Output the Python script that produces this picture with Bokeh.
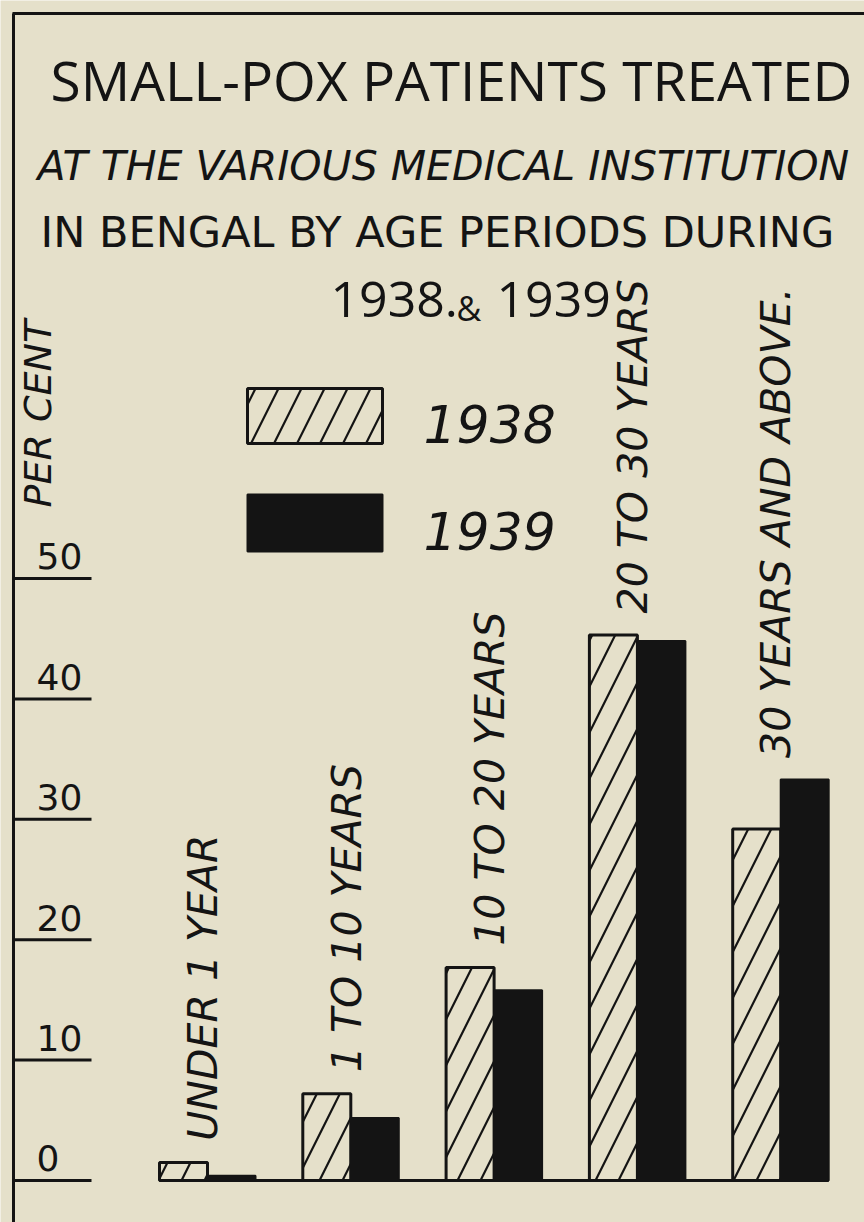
from bokeh.plotting import figure
from bokeh.models import ColumnDataSource, Range1d, Label
from bokeh.transform import dodge
from bokeh.core.properties import value
from bokeh.embed import file_html
from bokeh.resources import INLINE
import math

# ---- data ----
age_groups = ["UNDER 1 YEAR", "1 TO 10 YEARS", "10 TO 20 YEARS", "20 TO 30 YEARS", "30 YEARS AND ABOVE."]
pct_1938 = [1.5, 7.2, 17.7, 45.3, 29.2]
pct_1939 = [0.4, 5.2, 15.8, 44.8, 33.3]
y_ticks = [0, 10, 20, 30, 40, 50]
years = ["1938", "1939"]

PAPER = "#e5e0ca"
INK = "#141414"
SANS = "Open Sans"
HAND = "DejaVu Sans"

W, H = 864, 1222
# pixel -> data helpers (canvas pixels), used for annotation placement only
GX0, GDX = 207.0, 143.3
BY0, BDY = 1180.0, 12.04
SHIFT = 0.42  # baseline correction (fraction of font size)
def xd(cx):
    return (cx - GX0) / GDX
def yd(cy):
    return (BY0 - cy) / BDY

p = figure(width=W, height=H, output_backend="svg", toolbar_location=None,
           x_range=Range1d(xd(0), xd(W)), y_range=Range1d(yd(H), yd(0)),
           min_border=0, x_axis_location=None, y_axis_location=None)
p.grid.visible = False
p.outline_line_color = None
p.background_fill_color = PAPER
p.border_fill_color = PAPER

idx = list(range(len(age_groups)))
src = ColumnDataSource(dict(x=idx, a=pct_1938, b=pct_1939, cat=age_groups,
                            top=[max(a, b) for a, b in zip(pct_1938, pct_1939)]))
bw = 48 / GDX

hatch = dict(fill_color=PAPER, hatch_pattern="/", hatch_color=INK, hatch_weight=2.2,
             hatch_scale=46, line_color=INK, line_width=3)
p.vbar(x=dodge("x", -bw / 2, range=p.x_range), top="a", bottom=0, width=bw, source=src, **hatch)
p.vbar(x=dodge("x", bw / 2, range=p.x_range), top="b", bottom=0, width=bw, source=src,
       fill_color=INK, line_color=INK, line_width=2)

# baseline
p.segment(x0=[idx[0] - bw], x1=[idx[-1] + bw], y0=[0], y1=[0], line_color=INK, line_width=3)

# frame: left axis line and top border
p.segment(x0=[xd(13)], x1=[xd(13)], y0=[yd(13)], y1=[yd(H)], line_color=INK, line_width=3)
p.segment(x0=[xd(12)], x1=[xd(W)], y0=[yd(13)], y1=[yd(13)], line_color=INK, line_width=3)

# ticks
TICK_FS = 36
tick_src = ColumnDataSource(dict(y=y_ticks, lab=[str(t) for t in y_ticks]))
p.segment(x0=xd(13), x1=xd(91), y0="y", y1="y", source=tick_src, line_color=INK, line_width=3)
p.text(x=xd(36), y=dodge("y", (7 + SHIFT * TICK_FS) / BDY, range=p.y_range), text="lab",
       source=tick_src, text_font=value(HAND), text_font_size=f"{TICK_FS}px", text_color=INK,
       text_baseline="alphabetic", text_align="left")

# category labels (rotated)
p.text(x=dodge("x", -0.03, range=p.x_range), y=dodge("top", 1.8, range=p.y_range), text="cat",
       source=src, angle=math.pi / 2, text_font=value(HAND), text_font_size="41px",
       text_font_style="italic", text_color=INK, text_align="left", text_baseline="middle")

# legend swatches and labels
LEG_FS = 52
p.quad(left=[xd(247)], right=[xd(382)], top=[yd(388)], bottom=[yd(443)], **hatch)
p.quad(left=[xd(247)], right=[xd(382)], top=[yd(494)], bottom=[yd(551)],
       fill_color=INK, line_color=INK, line_width=2)
p.text(x=[xd(423)] * 2, y=[yd(445 - SHIFT * LEG_FS), yd(552 - SHIFT * LEG_FS)], text=years,
       text_font=value(HAND), text_font_size=f"{LEG_FS}px", text_font_style="italic",
       text_color=INK, text_baseline="alphabetic", text_align="left")

# titles
def lab(text, x, ybase, size, style="normal", font=HAND):
    p.add_layout(Label(x=x, y=H - (ybase - SHIFT * size), x_units="screen", y_units="screen",
                       text=text, text_font=font, text_font_size=f"{size}px",
                       text_font_style=style, text_color=INK, text_baseline="alphabetic"))

lab("SMALL-POX PATIENTS TREATED", 50, 102, 55, font=SANS)
lab("AT THE VARIOUS MEDICAL INSTITUTION", 37, 183, 41, "italic")
lab("IN BENGAL BY AGE PERIODS DURING", 40, 250, 43)
lab("1938.", 330, 320, 50, font=SANS)
lab("&", 456, 322, 34, font=SANS)
lab("1939", 496, 320, 50, font=SANS)

p.add_layout(Label(x=37, y=H - 507, x_units="screen", y_units="screen", text="PER CENT",
                   angle=math.pi / 2, text_font=HAND, text_font_size="38px",
                   text_font_style="italic", text_color=INK, text_baseline="middle",
                   text_align="left"))

open("out.html", "w").write(file_html(p, INLINE))
